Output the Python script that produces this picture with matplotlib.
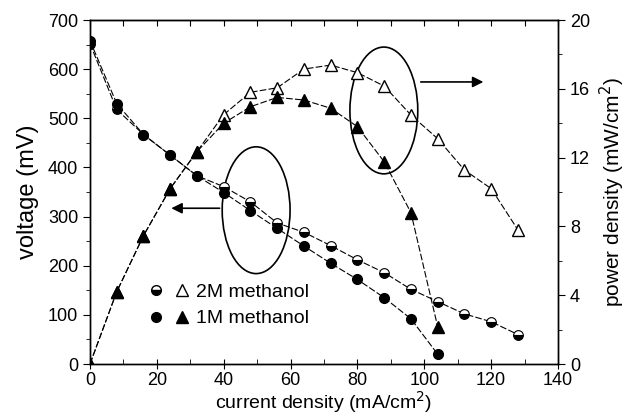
import numpy as np
import matplotlib
matplotlib.use('Agg')
import matplotlib.pyplot as plt
from matplotlib.patches import Ellipse
from matplotlib.lines import Line2D
from matplotlib.legend_handler import HandlerTuple
from matplotlib.ticker import MultipleLocator

plt.rcParams['font.family'] = ['Liberation Sans', 'DejaVu Sans']

# ---------- data ----------
current_2m = [0, 8, 16, 24, 32, 40, 48, 56, 64, 72, 80, 88, 96, 104, 112, 120, 128]
voltage_2m = [652, 518, 467, 425, 383, 361, 330, 287, 268, 241, 212, 186, 152, 127, 102, 86, 60]
power_2m = [0, 4.2, 7.46, 10.2, 12.35, 14.5, 15.8, 16.06, 17.15, 17.38, 16.94, 16.16, 14.48, 13.1, 11.28, 10.2, 7.8]

current_1m = [0, 8, 16, 24, 32, 40, 48, 56, 64, 72, 80, 88, 96, 104]
voltage_1m = [658, 530, 467, 425, 383, 349, 312, 276, 240, 205, 172, 135, 92, 20]
power_1m = [0, 4.2, 7.46, 10.2, 12.35, 14.0, 14.96, 15.5, 15.35, 14.87, 13.8, 11.76, 8.8, 2.17]

# ---------- figure ----------
fig = plt.figure(figsize=(6.27, 4.2), dpi=100)
ax = fig.add_axes([0.1435, 0.1333, 0.7465, 0.819])
ax2 = ax.twinx()

dash = (0, (6, 2))
lw = 0.8

ax.plot(current_2m, voltage_2m, linestyle=dash, color='black', lw=lw,
        marker='o', markersize=7, fillstyle='bottom',
        markerfacecolor='black', markerfacecoloralt='white',
        markeredgecolor='black', markeredgewidth=0.8)
ax.plot(current_1m, voltage_1m, linestyle=dash, color='black', lw=lw,
        marker='o', markersize=7, markerfacecolor='black', markeredgecolor='black')

ax2.plot(current_2m, power_2m, linestyle=dash, color='black', lw=lw,
         marker='^', markersize=8, markerfacecolor='white',
         markeredgecolor='black', markeredgewidth=1.0)
ax2.plot(current_1m, power_1m, linestyle=dash, color='black', lw=lw,
         marker='^', markersize=8, markerfacecolor='black', markeredgecolor='black')

# ellipses + arrows (voltage axis coordinates)
ax.add_patch(Ellipse((49.7, 313), 20.3, 258, fill=False, lw=1.2, color='black'))
ax.add_patch(Ellipse((87.9, 516), 20.3, 258, fill=False, lw=1.2, color='black'))
ax.annotate('', xy=(23.5, 317), xytext=(39.6, 317),
            arrowprops=dict(arrowstyle='-|>', color='black', lw=1.2, mutation_scale=16))
ax.annotate('', xy=(118.5, 574), xytext=(98.1, 574),
            arrowprops=dict(arrowstyle='-|>', color='black', lw=1.2, mutation_scale=16))

# axes ranges & ticks
ax.set_xlim(0, 140)
ax.set_ylim(0, 700)
ax2.set_ylim(0, 20)
ax.xaxis.set_major_locator(MultipleLocator(20))
ax.xaxis.set_minor_locator(MultipleLocator(10))
ax.yaxis.set_major_locator(MultipleLocator(100))
ax.yaxis.set_minor_locator(MultipleLocator(50))
ax2.yaxis.set_major_locator(MultipleLocator(4))
ax2.yaxis.set_minor_locator(MultipleLocator(2))

ax.tick_params(axis='x', which='major', direction='inout', length=7, labelsize=13, top=False, pad=2)
ax.tick_params(axis='x', which='minor', direction='in', length=3.5, top=False)
ax.tick_params(axis='y', which='major', direction='out', length=5, labelsize=13)
ax.tick_params(axis='y', which='minor', direction='out', length=3)
ax2.tick_params(axis='y', which='major', direction='out', length=5, labelsize=13)
ax2.tick_params(axis='y', which='minor', direction='out', length=3)

# top ticks pointing inside
top = ax.secondary_xaxis('top')
top.xaxis.set_major_locator(MultipleLocator(10))
top.tick_params(direction='in', length=4, labeltop=False)

for a in (ax, ax2):
    for s in a.spines.values():
        s.set_linewidth(1.0)

ax.set_xlabel('current density (mA/cm$^2$)', fontsize=14, labelpad=0)
ax.set_ylabel('voltage (mV)', fontsize=17, labelpad=6)
ax2.set_ylabel('power density (mW/cm$^2$)', fontsize=15, labelpad=6)

# legend
h2c = Line2D([], [], linestyle='none', marker='o', markersize=7, fillstyle='bottom',
             markerfacecolor='black', markerfacecoloralt='white', markeredgecolor='black')
h2t = Line2D([], [], linestyle='none', marker='^', markersize=8,
             markerfacecolor='white', markeredgecolor='black')
h1c = Line2D([], [], linestyle='none', marker='o', markersize=7, color='black')
h1t = Line2D([], [], linestyle='none', marker='^', markersize=8, color='black')
ax.legend([(h2c, h2t), (h1c, h1t)], ['2M methanol', '1M methanol'],
          handler_map={tuple: HandlerTuple(ndivide=None, pad=0.6)},
          loc='upper left', bbox_to_anchor=(0.09, 0.285), frameon=False,
          fontsize=14, handlelength=2.0, handletextpad=0.4, labelspacing=0.45)

fig.savefig('out.png', dpi=100)
